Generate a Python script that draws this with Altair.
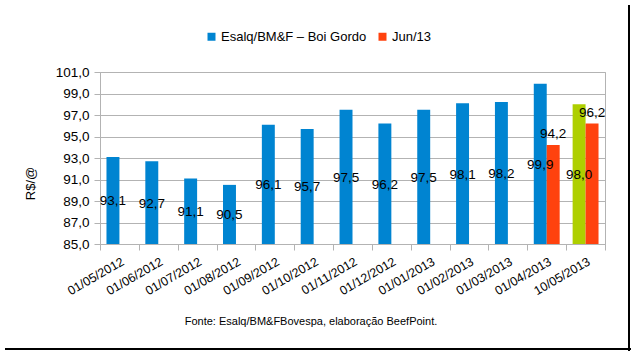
import altair as alt
import pandas as pd

datas = ["01/05/2012", "01/06/2012", "01/07/2012", "01/08/2012", "01/09/2012",
         "01/10/2012", "01/11/2012", "01/12/2012", "01/01/2013", "01/02/2013",
         "01/03/2013", "01/04/2013", "10/05/2013"]
esalq = [93.1, 92.7, 91.1, 90.5, 96.1, 95.7, 97.5, 96.2, 97.5, 98.1, 98.2, 99.9, 98.0]
jun_datas = ["01/04/2013", "10/05/2013"]
jun13 = [94.2, 96.2]
destaque = "10/05/2013"
y_ticks = [85, 87, 89, 91, 93, 95, 97, 99, 101]

S1 = "Esalq/BM&F – Boi Gordo"
S2 = "Jun/13"
S3 = "Destaque"

rows = []
for d, v in zip(datas, esalq):
    rows.append({"data": d, "serie": S1, "cor": S3 if d == destaque else S1, "valor": v})
for d, v in zip(jun_datas, jun13):
    rows.append({"data": d, "serie": S2, "cor": S2, "valor": v})
df = pd.DataFrame(rows)
df["rotulo"] = df["valor"].map(lambda v: f"{v:.1f}".replace(".", ","))
df["base"] = 85.0
df["meio"] = (df["valor"] + 85.0) / 2

FONT = "Liberation Sans"
GRID = "#b3b3b3"

x_axis = alt.Axis(title=None, labelAngle=-30, labelAlign="right",
                  labelBaseline="top", tickBand="extent", tickSize=6,
                  labelPadding=5, labelFontSize=12.5, grid=False,
                  labelFont=FONT, labelColor="black", labelOverlap=False)
y_axis = alt.Axis(values=y_ticks, title="R$/@", tickSize=6, labelPadding=5,
                  labelExpr="replace(format(datum.value, '.1f'), '.', ',')",
                  labelFontSize=13.5, labelFont=FONT, labelColor="black",
                  labelOverlap=False, grid=True,
                  titleFont=FONT, titleFontSize=13, titleFontWeight="normal",
                  titleColor="black", titleX=-70, titleY=111,
                  titleAngle=-90, titleAlign="center", titleBaseline="middle")
x_scale = alt.Scale(paddingInner=0, paddingOuter=0)
xo_enc = alt.XOffset("serie:N", scale=alt.Scale(domain=[S1, S2], paddingInner=0, paddingOuter=0.5))
y_scale = alt.Scale(domain=[85, 101], nice=False, zero=False)

base = alt.Chart(df)

bars = base.mark_bar().encode(
    x=alt.X("data:N", sort=datas, scale=x_scale, axis=x_axis),
    xOffset=xo_enc,
    y=alt.Y("valor:Q", scale=y_scale, axis=y_axis),
    y2="base:Q",
    color=alt.Color("cor:N",
                    scale=alt.Scale(domain=[S1, S2, S3], range=["#0084d1", "#ff420e", "#aecf00"]),
                    legend=alt.Legend(values=[S1, S2], title=None, orient="none",
                                      direction="horizontal", legendX=105, legendY=-42,
                                      symbolType="square", symbolSize=64, symbolStrokeWidth=0,
                                      labelFontSize=13, labelFont=FONT, labelColor="black",
                                      labelOffset=3, columnPadding=9)),
)

lab_mid = base.transform_filter(alt.datum.serie == S1).mark_text(
    fontSize=13.5, font=FONT, color="black", baseline="middle", dy=1
).encode(x=alt.X("data:N", sort=datas, scale=x_scale, axis=x_axis), xOffset=xo_enc,
         y=alt.Y("meio:Q", scale=y_scale, axis=y_axis), text="rotulo:N")

lab_top = base.transform_filter(alt.datum.serie == S2).mark_text(
    fontSize=13.5, font=FONT, color="black", baseline="alphabetic", dy=-7
).encode(x=alt.X("data:N", sort=datas, scale=x_scale, axis=x_axis), xOffset=xo_enc,
         y=alt.Y("valor:Q", scale=y_scale, axis=y_axis), text="rotulo:N")

fonte = alt.Chart(pd.DataFrame({"t": ["Fonte: Esalq/BM&FBovespa, elaboração BeefPoint."]})).mark_text(
    fontSize=11, font=FONT, color="black", align="center", baseline="middle"
).encode(x=alt.value(211), y=alt.value(250), text="t:N")

borda = pd.DataFrame({"k": [1]})
borda_dir = alt.Chart(borda).mark_rule(color="black", strokeWidth=2).encode(
    x=alt.value(529), y=alt.value(-67), y2=alt.value(279))
borda_inf = alt.Chart(borda).mark_rule(color="black", strokeWidth=2).encode(
    x=alt.value(-95), x2=alt.value(531), y=alt.value(277))

chart = alt.layer(bars, lab_mid, lab_top, fonte, borda_dir, borda_inf).properties(
    width=505, height=172,
    autosize=alt.AutoSizeParams(type="none"),
    padding={"left": 100, "top": 72, "right": 26, "bottom": 107},
    background="white",
).configure_view(stroke=GRID).configure_axis(
    gridColor=GRID, domainColor=GRID, tickColor=GRID
)

chart.save("out.html", embed_options={"renderer": "svg", "actions": False})
